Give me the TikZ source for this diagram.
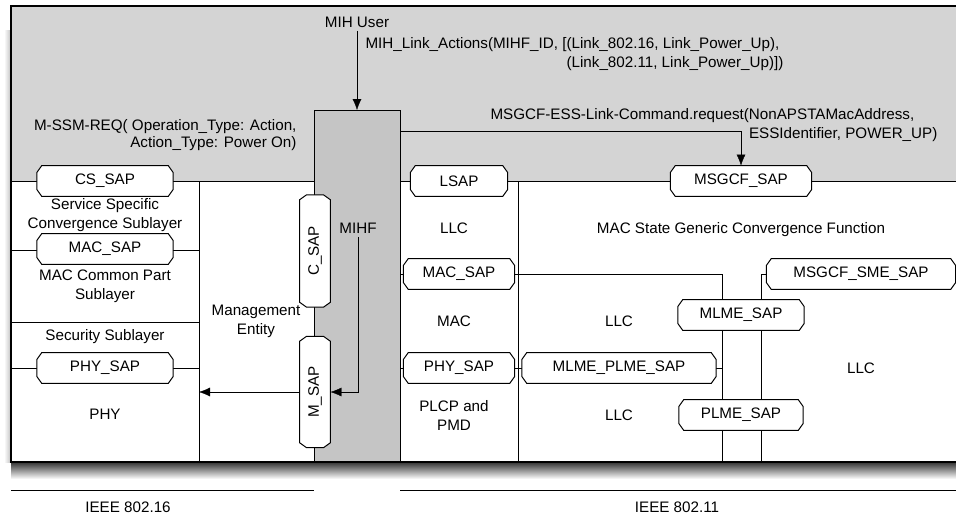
\documentclass[tikz,border=0pt]{standalone}
\usepackage{fontspec}
\setmainfont{Liberation Sans}
\usepackage{tikz}
\usetikzlibrary{positioning, arrows.meta, calc}
\definecolor{topgray}{RGB}{212,212,212}
\definecolor{mihfgray}{RGB}{197,197,197}
\pgfdeclarelayer{bg}
\pgfdeclarelayer{wires}
\pgfdeclarelayer{boxes}
\pgfsetlayers{bg,wires,boxes,main}
\tikzstyle{sap} = [rectangle, minimum height=30.5pt, inner sep=0pt, align=center]
\tikzstyle{vsap} = [sap, rotate=90]
\tikzstyle{sapframe} = [draw=black, fill=white, line width=1pt]
\tikzstyle{layer} = [align=center]
\tikzstyle{mihfbox} = [rectangle, minimum width=86pt, minimum height=352pt, inner sep=0pt, draw=black, fill=mihfgray]
\tikzstyle{arrow} = [->, >={Latex[length=11pt, width=9pt]}]
\tikzstyle{every node}=[font=\fontsize{15.2}{19}\selectfont]

\begin{document}
\begin{tikzpicture}[x=1pt, y=-1pt, node distance=34pt, line width=1.1pt]
    \clip (0,0) rectangle (956,515);
    %背景、阴影和外框
    \begin{pgfonlayer}{bg}
    \shade [top color=black!80, bottom color=white] (11,462) rectangle (960,479);
    \shade [left color=white, right color=black!25] (4,30) rectangle (11,462);
    \fill [topgray] (11,6) rectangle (960,181);
    \node (mihfcol) [mihfbox, anchor=north west] at (314,110) {};
    \draw [line width=1.5pt] (11,6) rectangle (960,462);
    \end{pgfonlayer}

    %左侧 802.16 协议栈
    \node (cssap) [sap, minimum width=136pt] at (105,181) {CS\_SAP};
    \node (ssc) [layer, below of = cssap] {Service Specific\\Convergence Sublayer};
    \node (macsapl) [sap, minimum width=136pt, below of = ssc] {MAC\_SAP};
    \node (mcps) [layer, below of = macsapl, yshift=-3pt] {MAC Common Part\\Sublayer};
    \node (secsub) [layer, below of = mcps, yshift=-17pt] {Security Sublayer};
    \node (physapl) [sap, minimum width=136pt, below of = secsub, yshift=3pt] {PHY\_SAP};
    \node (phy) [layer, below of = physapl, yshift=-12pt] {PHY};
    \node (mgmt) [layer] at (256,321) {Management\\Entity};

    %MIHF 及其接口
    \node (mihuser) [layer] at (357,22) {MIH User};
    \node (mihf) [layer] at (358,228) {MIHF};
    \node (csap) [vsap, minimum width=112pt] at (315,251) {C\_SAP};
    \node (msap) [vsap, minimum width=111pt] at (315,392) {M\_SAP};
    \node (linkact) [align=left, anchor=west] at (362,54) {MIH\_Link\_Actions(MIHF\_ID, [(Link\_802.16, Link\_Power\_Up),\\\phantom{MIH\_Link\_Actions(MIHF\_ID, [}(Link\_802.11, Link\_Power\_Up)])};
    \node (ssmreq) [align=right, anchor=east] at (300,135) {M-SSM-REQ( Operation\_Type: Action,\\[-2pt]Action\_Type: Power On)};
    \node (esscmd) [align=left, anchor=west] at (487,125) {MSGCF-ESS-Link-Command.request(NonAPSTAMacAddress,\\\phantom{MSGCF-ESS-Link-Command.request(}ESSIdentifier, POWER\_UP)};

    %右侧 802.11 协议栈
    \node (lsap) [sap, minimum width=97pt] at (459,181) {LSAP};
    \node (llc1) [layer, below of = lsap, xshift=-5pt, yshift=-13pt] {LLC};
    \node (macsapr) [sap, minimum width=111pt, below of = lsap, yshift=-59pt] {MAC\_SAP};
    \node (mac) [layer, below of = macsapr, xshift=-5pt, yshift=-13pt] {MAC};
    \node (physapr) [sap, minimum width=111pt, below of = macsapr, yshift=-60pt] {PHY\_SAP};
    \node (plcp) [layer, below of = physapr, xshift=-5pt, yshift=-13pt] {PLCP and\\PMD};
    \node (mlpsap) [sap, minimum width=194pt] at (619,368) {MLME\_PLME\_SAP};
    \node (llc2) [layer, above of = mlpsap, yshift=13pt] {LLC};
    \node (llc3) [layer, below of = mlpsap, yshift=-13pt] {LLC};
    \node (msgcfsap) [sap, minimum width=141pt] at (741,181) {MSGCF\_SAP};
    \node (msgcf) [layer, below of = msgcfsap, yshift=-15pt] {MAC State Generic Convergence Function};
    \node (mlmesap) [sap, minimum width=126pt] at (741,315) {MLME\_SAP};
    \node (plmesap) [sap, minimum width=124pt] at (741,415) {PLME\_SAP};
    \node (smesap) [sap, minimum width=189pt] at (861,274) {MSGCF\_SME\_SAP};
    \node (llc4) [layer, below of = smesap, yshift=-60pt] {LLC};

    %底部标注
    \node (ieee16) at (128,507) {IEEE 802.16};
    \node (ieee11) at (677,507) {IEEE 802.11};
    \draw (11,490) -- (314,490);
    \draw (400,490) -- (960,490);

    \coordinate (busa) at (722,462);
    \coordinate (busb) at (761,462);
    \coordinate (pout) at (199,392);
    \coordinate (mihfout) at (400,131);

    %SAP 切角框
    \begin{pgfonlayer}{boxes}
    \foreach \s in {cssap, macsapl, physapl, csap, msap, lsap, macsapr, physapr, mlpsap, msgcfsap, mlmesap, plmesap, smesap}
        \draw [sapframe] ($(\s.north west)!5pt!(\s.north east)$) -- ($(\s.north east)!5pt!(\s.north west)$)
            -- ($(\s.north east)!7pt!(\s.south east)$) -- ($(\s.south east)!7pt!(\s.north east)$)
            -- ($(\s.south east)!5pt!(\s.south west)$) -- ($(\s.south west)!5pt!(\s.south east)$)
            -- ($(\s.south west)!7pt!(\s.north west)$) -- ($(\s.north west)!7pt!(\s.south west)$) -- cycle;
    \end{pgfonlayer}

    %连接线
    \begin{pgfonlayer}{wires}
    \draw (11,181) -- (314,181);
    \draw (400,181) -- (960,181);
    \draw (199,181) -- (199,462);
    \draw (518,181) -- (518,462);
    \draw (11,322) -- (199,322);
    \draw (11,250) -- (199,250);
    \draw (11,368) -- (199,368);
    \draw [arrow] (mihuser) -- (mihuser |- mihfcol.north);
    \draw [arrow] (mihf) |- (msap);
    \draw [arrow] (msap) -- (pout);
    \draw [arrow] (mihfout) -| (msgcfsap);
    \draw (mihfcol.east |- macsapr) -- (macsapr);
    \draw (mihfcol.east |- physapr) -- (physapr);
    \draw (physapr) -- (mlpsap);
    \draw (macsapr) -| (busa);
    \draw (smesap) -| (busb);
    \draw (mlpsap) -- (mlpsap -| busa);
    \end{pgfonlayer}
\end{tikzpicture}
\end{document}
